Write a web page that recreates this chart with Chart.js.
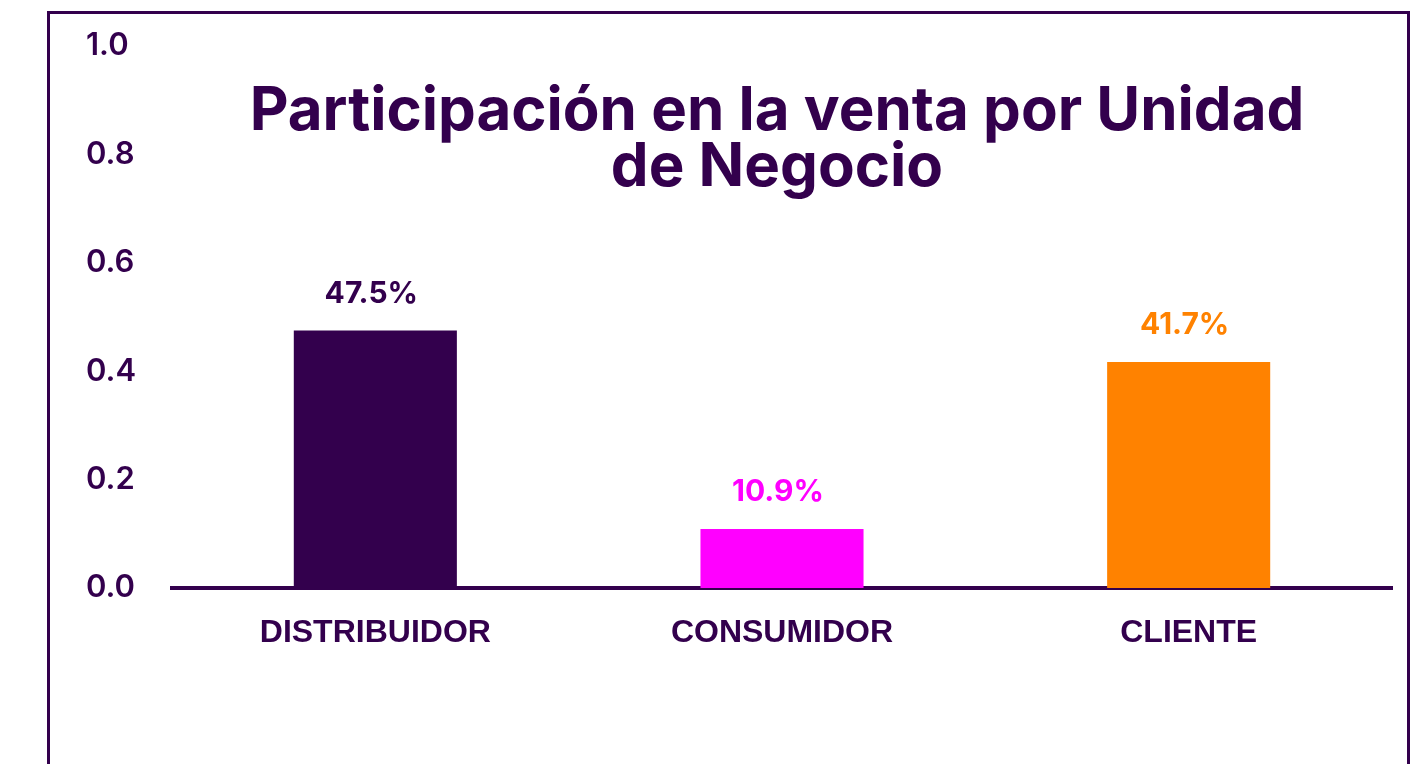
<!DOCTYPE html>
<html>
<head>
<meta charset="utf-8">
<script src="https://cdn.jsdelivr.net/npm/chart.js@4/dist/chart.umd.min.js"></script>
<style>
  html, body { margin: 0; padding: 0; background: #ffffff; overflow: hidden; }
  #wrap { position: relative; width: 1419px; height: 764px; }
  #frame { position: absolute; left: 47px; top: 11px; width: 1363px; height: 820px; border: 3px solid #33004d; box-sizing: border-box; }
  #c { position: absolute; left: 0; top: 0; }
</style>
</head>
<body>
<div id="wrap">
  <div id="frame"></div>
  <canvas id="c" width="1419" height="764"></canvas>
</div>
<script>
const categories = ['DISTRIBUIDOR', 'CONSUMIDOR', 'CLIENTE'];
const shares = [0.475, 0.109, 0.417];
const valueLabels = ['47.5%', '10.9%', '41.7%'];
const barColors = ['#33004d', '#ff00ff', '#ff8200'];
const yTicks = [0.0, 0.2, 0.4, 0.6, 0.8, 1.0];
const titleLines = ['Participación en la venta por Unidad', 'de Negocio'];

const INK = '#33004d';

const overlayPlugin = {
  id: 'overlay',
  afterDatasetsDraw(chart) {
    const ctx = chart.ctx;
    const meta = chart.getDatasetMeta(0);
    ctx.save();
    ctx.textAlign = 'center';
    ctx.textBaseline = 'middle';
    ctx.font = 'bold 30px Inter, "Noto Sans", sans-serif';
    meta.data.forEach((bar, i) => {
      ctx.fillStyle = barColors[i];
      ctx.fillText(valueLabels[i], bar.x - 4, bar.y - 37);
    });
    ctx.fillStyle = INK;
    ctx.font = 'bold 60px Inter, "Noto Sans", sans-serif';
    ctx.textBaseline = 'alphabetic';
    titleLines.forEach((t, i) => {
      ctx.fillText(t, 777, 130 + i * 56);
    });
    ctx.restore();
  }
};

new Chart(document.getElementById('c'), {
  type: 'bar',
  data: {
    labels: categories,
    datasets: [{
      data: shares,
      backgroundColor: barColors,
      borderWidth: 0,
      barPercentage: 0.401,
      categoryPercentage: 1.0
    }]
  },
  options: {
    responsive: false,
    animation: false,
    events: [],
    layout: { padding: { left: 86, right: 27, top: 46, bottom: 0 } },
    plugins: {
      legend: { display: false },
      tooltip: { enabled: false },
      title: { display: false }
    },
    scales: {
      x: {
        grid: { display: false, drawTicks: false },
        border: { display: true, color: INK, width: 4 },
        ticks: {
          color: INK,
          padding: 26,
          font: { family: '"Liberation Sans Narrow", "Liberation Sans", sans-serif', size: 32, weight: 'bold' }
        },
        afterFit(scale) { scale.height = 176; }
      },
      y: {
        min: 0,
        max: 1.0,
        afterBuildTicks(scale) { scale.ticks = yTicks.map(v => ({ value: v })); },
        grid: { display: false, drawTicks: false },
        border: { display: false },
        ticks: {
          color: INK,
          crossAlign: 'far',
          padding: 0,
          font: { family: 'Inter, "Noto Sans", sans-serif', size: 31, weight: '600' },
          callback: (v) => Number(v).toFixed(1)
        },
        afterFit(scale) { scale.width = 86; }
      }
    }
  },
  plugins: [overlayPlugin]
});
</script>
</body>
</html>
